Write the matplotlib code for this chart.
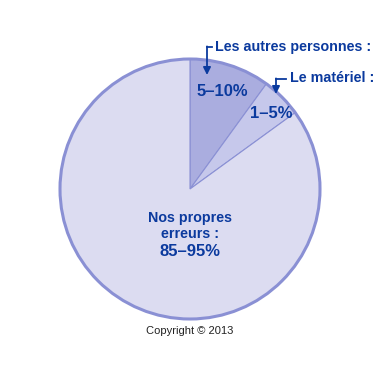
import matplotlib.pyplot as plt
from matplotlib.patches import Circle

# data
shares = [10, 5, 85]
labels = ['5–10%', '1–5%', '85–95%']
names = ['Les autres personnes :', 'Le matériel :', 'Nos propres\nerreurs :']
colors = ['#aaaddf', '#c6c8eb', '#dcdcf1']

edge = '#8a90d4'
txt = '#0b3a9e'
font = 'Liberation Sans'

fig = plt.figure(figsize=(3.8, 3.8), dpi=100)
ax = fig.add_axes([0, 0, 1, 1])

cx, cy, r = 190, 191, 130
ax.pie(shares, colors=colors, startangle=90, counterclock=False,
       center=(cx, cy), radius=r, frame=True,
       wedgeprops=dict(edgecolor=edge, linewidth=0.8))
ax.add_patch(Circle((cx, cy), r, fill=False, edgecolor=edge, linewidth=2.2))
ax.set_xlim(0, 380)
ax.set_ylim(0, 380)
ax.set_aspect('equal')
ax.axis('off')

# labels inside slices
ax.text(222, 288, labels[0], ha='center', va='center', color=txt,
        fontsize=12, fontweight='bold', family=font)
ax.text(271, 266, labels[1], ha='center', va='center', color=txt,
        fontsize=12, fontweight='bold', family=font)
ax.text(190, 154, names[2], ha='center', va='center', color=txt,
        fontsize=10.3, fontweight='bold', family=font, linespacing=1.1)
ax.text(190, 129, labels[2], ha='center', va='center', color=txt,
        fontsize=12, fontweight='bold', family=font)

# callouts with bent arrows
ax.text(215, 333, names[0], ha='left', va='center', color=txt,
        fontsize=10.3, fontweight='bold', family=font)
ax.plot([212, 207], [333, 333], color=txt, lw=1.3)
ax.annotate('', xy=(207, 305), xytext=(207, 333.6),
            arrowprops=dict(arrowstyle='-|>', color=txt, lw=1.3,
                            mutation_scale=11, shrinkA=0, shrinkB=0))

ax.text(290, 302, names[1], ha='left', va='center', color=txt,
        fontsize=10.3, fontweight='bold', family=font)
ax.plot([286, 276], [301, 301], color=txt, lw=1.3)
ax.annotate('', xy=(276, 286), xytext=(276, 301.6),
            arrowprops=dict(arrowstyle='-|>', color=txt, lw=1.3,
                            mutation_scale=11, shrinkA=0, shrinkB=0))

ax.text(190, 49, 'Copyright © 2013', ha='center', va='center',
        color='#222222', fontsize=8, family=font)

fig.savefig('out.png', dpi=100)
